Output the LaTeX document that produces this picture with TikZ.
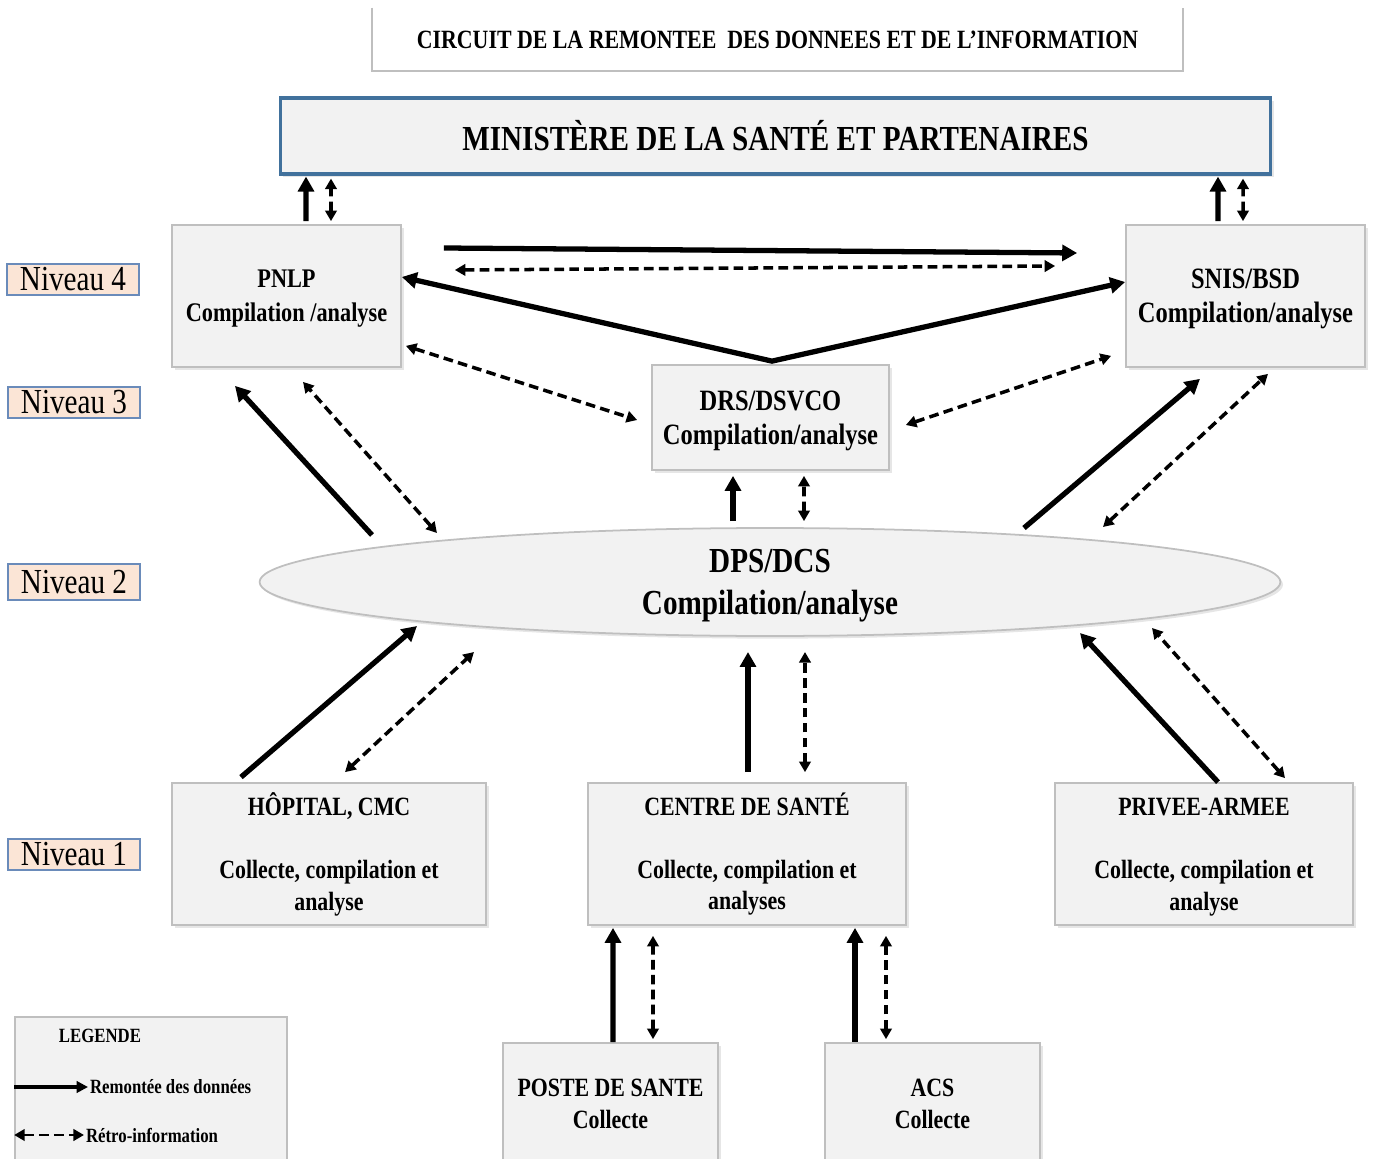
\documentclass[tikz,border=0pt]{standalone}
\usepackage{fontspec}
\setmainfont{Liberation Serif}[FakeStretch=0.83]
\usepackage{tikz}
\usetikzlibrary{arrows.meta,shapes.geometric,calc,shadows}
\definecolor{boxfill}{HTML}{F2F2F2}
\definecolor{boxgray}{HTML}{BFBFBF}
\definecolor{minsblue}{HTML}{41719C}
\definecolor{niveaufill}{HTML}{FBE5D6}
\definecolor{niveaublue}{HTML}{6A8BBA}
\tikzstyle{unit}=[draw=boxgray,fill=boxfill,line width=1pt,align=center,inner sep=0pt,
	text depth=0pt,drop shadow={opacity=0.2,shadow xshift=1.5pt,shadow yshift=-1.5pt},
	font=\fontsize{16.8}{19.5}\selectfont\bfseries]
\tikzstyle{base}=[unit,text depth=,minimum height=2.84cm,font=\fontsize{15}{18}\selectfont\bfseries]
\tikzstyle{niveau}=[draw=niveaublue,fill=niveaufill,line width=1pt,inner sep=0pt,
	minimum width=2.64cm,minimum height=0.62cm,font=\fontsize{20}{24}\selectfont]
\tikzstyle{data}=[line width=3pt,-{Triangle[length=8.5pt,width=9pt]}]
\tikzstyle{retro}=[line width=2pt,dash pattern=on 5.5pt off 3pt,
	{Triangle[length=6pt,width=6.5pt]}-{Triangle[length=6pt,width=6.5pt]}]

\begin{document}
\begin{tikzpicture}[x=0.02cm,y=-0.02cm]
		\useasboundingbox (0,0) rectangle (1374,1159);

		% title
		\node[minimum width=16.22cm,minimum height=1.26cm,inner sep=0pt,
			font=\fontsize{15}{18}\selectfont\bfseries] (title) at (777.5,39.5)
			{CIRCUIT DE LA REMONTEE\ \ DES DONNEES ET DE L'INFORMATION};
		\draw[boxgray,line width=1pt] (title.north west) -- (title.south west)
			-- (title.south east) -- (title.north east);

		% levels
		\node[niveau] (n4) at (73,279.5) {Niveau 4};
		\node[niveau] (n3) at (74,402.5) {Niveau 3};
		\node[niveau,minimum height=0.72cm] (n2) at (74,582) {Niveau 2};
		\node[niveau] (n1) at (74,854.5) {Niveau 1};

		% units
		\node[unit,draw=minsblue,line width=1.8pt,minimum width=19.82cm,minimum height=1.52cm,
			text depth=,font=\fontsize{20}{24}\selectfont\bfseries] (mins) at (775.5,136)
			{MINISTÈRE DE LA SANTÉ ET PARTENAIRES};
		\node[unit,minimum width=4.58cm,minimum height=2.84cm,
			font=\fontsize{15.3}{19.5}\selectfont\bfseries] (pnlp) at (286.5,296)
			{PNLP\\Compilation /analyse};
		\node[unit,minimum width=4.78cm,minimum height=2.84cm] (snis) at (1245.5,296)
			{SNIS/BSD\\Compilation/analyse};
		\node[unit,minimum width=4.74cm,minimum height=2.1cm] (drs) at (770.5,417.5)
			{DRS/DSVCO\\Compilation/analyse};
		\node[unit,ellipse,minimum width=20.42cm,minimum height=2.16cm,
			font=\fontsize{20}{23.5}\selectfont\bfseries] (dps) at (770,582)
			{DPS/DCS\\Compilation/analyse};
		\node[base,minimum width=6.28cm] (hop) at (329,854)
			{HÔPITAL, CMC\\[18pt]Collecte, compilation et\\analyse};
		\node[base,minimum width=6.36cm] (cs) at (747,854)
			{CENTRE DE SANTÉ\\[18pt]Collecte, compilation et\\analyses};
		\node[base,minimum width=5.96cm] (priv) at (1204,854)
			{\vphantom{Ô}PRIVEE-ARMEE\\[18pt]Collecte, compilation et\\analyse};
		\node[base,minimum width=4.3cm,minimum height=2.44cm] (poste) at (610.5,1104)
			{POSTE DE SANTE\\Collecte};
		\node[base,minimum width=4.3cm,minimum height=2.44cm] (acs) at (932.5,1104)
			{ACS\\Collecte};

		% niveau 4 -> ministere
		\draw[data] ($(pnlp.north)+(19.5,-3)$) -- ($(mins.south)+(-469.5,1)$);
		\draw[retro] ($(pnlp.north)+(44.5,-3)$) -- ($(mins.south)+(-444.5,3)$);
		\draw[data] ($(snis.north)+(-27.5,-3)$) -- ($(mins.south)+(442.5,1)$);
		\draw[retro] ($(snis.north)+(-2.5,-3)$) -- ($(mins.south)+(467.5,3)$);

		% pnlp <-> snis
		\draw[data] ($(pnlp.east)+(42,-48)$) -- ($(snis.west)+(-48,-43)$);
		\draw[retro] ($(pnlp.east)+(53,-26)$) -- ($(snis.west)+(-70,-30)$);

		% drs -> niveau 4
		\draw[data,{Triangle[length=8.5pt,width=9pt]}-{Triangle[length=8.5pt,width=9pt]}]
			($(pnlp.east)+(0,-19)$) -- ($(drs.north)+(1.5,-3)$) -- ($(snis.west)+(0,-14)$);
		\draw[retro] ($(pnlp.south east)+(4,-22)$) -- ($(drs.west)+(-14,2.5)$);
		\draw[retro] ($(drs.east)+(16,7.5)$) -- ($(snis.south west)+(-14,-12)$);

		% dps -> niveau 3 et 4
		\draw[data] ($(dps.north)+(-37,-6)$) -- ($(drs.south)+(-37.5,5)$);
		\draw[retro] ($(dps.north)+(34,-6)$) -- ($(drs.south)+(33.5,5)$);
		\draw[data] ($(dps.center)+(-398,-47)$) -- ($(pnlp.south)+(-51.5,18)$);
		\draw[retro] ($(dps.center)+(-333,-49)$) -- ($(pnlp.south)+(16.5,14)$);
		\draw[data] ($(dps.center)+(254,-54)$) -- ($(snis.south)+(-45.5,11)$);
		\draw[retro] ($(dps.center)+(333,-55)$) -- ($(snis.south)+(22.5,6)$);

		% niveau 1 -> dps
		\draw[data] ($(hop.north)+(-88,-5)$) -- ($(dps.center)+(-353,44)$);
		\draw[retro] ($(hop.north)+(16,-10)$) -- ($(dps.center)+(-296,70)$);
		\draw[data] ($(cs.north)+(1,-10)$) -- ($(dps.center)+(-22,70)$);
		\draw[retro] ($(cs.north)+(58,-10)$) -- ($(dps.center)+(35,70)$);
		\draw[data] ($(priv.north)+(14,0)$) -- ($(dps.center)+(310,51)$);
		\draw[retro] ($(priv.north)+(81,-4)$) -- ($(dps.center)+(382,46)$);

		% collecte -> centre de sante
		\draw[data] ($(poste.north)+(2.5,0)$) -- ($(cs.south)+(-134,2)$);
		\draw[retro] ($(poste.north)+(42.5,-3)$) -- ($(cs.south)+(-94,10)$);
		\draw[data] ($(acs.north)+(-77.5,0)$) -- ($(cs.south)+(108,2)$);
		\draw[retro] ($(acs.north)+(-46.5,-3)$) -- ($(cs.south)+(139,10)$);

		% legende
		\node[draw=boxgray,fill=boxfill,line width=1pt,minimum width=5.44cm,
			minimum height=2.96cm] (legend) at (151,1091) {};
		\node[font=\fontsize{11.5}{14}\selectfont\bfseries] (legtitle) at (100,1036) {LEGENDE};
		\node[anchor=west,inner sep=1pt,font=\fontsize{11.5}{14}\selectfont\bfseries]
			(remtxt) at (88,1087) {Remontée des données};
		\node[anchor=west,inner sep=1pt,font=\fontsize{11.5}{14}\selectfont\bfseries]
			(retrotxt) at (84,1135) {Rétro-information};
		\draw[data,line width=2.2pt,-{Triangle[length=6.5pt,width=6.5pt]}]
			(legend.west |- remtxt) -- (remtxt.west);
		\draw[retro,line width=1.5pt] (legend.west |- retrotxt) -- (retrotxt.west);
\end{tikzpicture}
\end{document}
